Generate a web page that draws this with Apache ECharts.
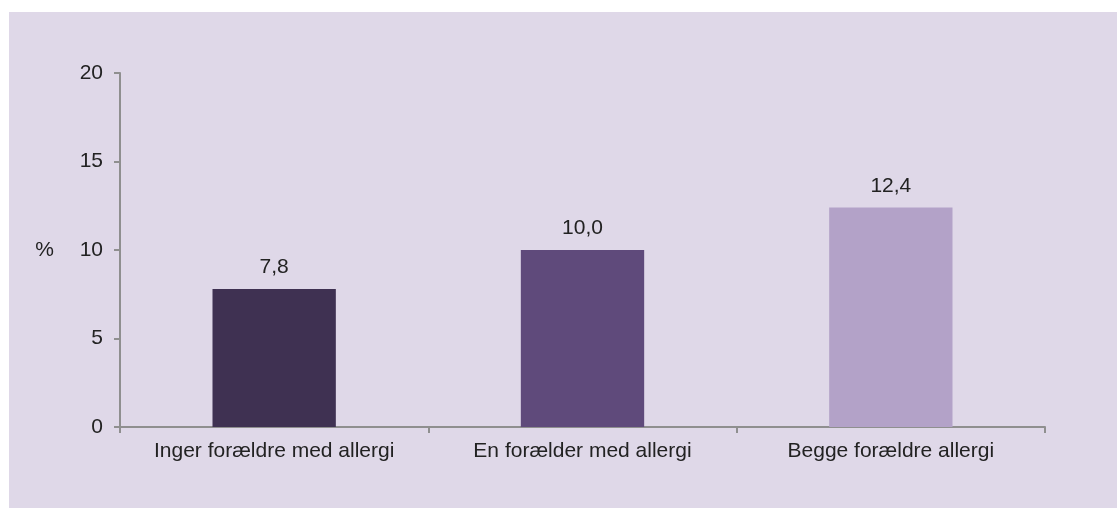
<!DOCTYPE html>
<html><head><meta charset="utf-8">
<script src="https://cdn.jsdelivr.net/npm/echarts@6/dist/echarts.min.js"></script>
<style>html,body{margin:0;padding:0;background:#fff;}#c{width:1117px;height:508px;}</style>
</head><body><div id="c"></div>
<script>
const categories = ['Inger forældre med allergi', 'En forælder med allergi', 'Begge forældre allergi'];
const values = [7.8, 10.0, 12.4];
const barColors = ['#3f3152', '#5f4a7b', '#b3a2c8'];
const yTicks = [0, 5, 10, 15, 20];

const chart = echarts.init(document.getElementById('c'), null, {renderer: 'canvas'});
const axisColor = '#8f8f8f';
const font = 'Liberation Sans, Arial, sans-serif';
const fs = 21;
chart.setOption({
  backgroundColor: '#ffffff',
  animation: false,
  graphic: [{
    type: 'rect', left: 9, top: 12, z: -10,
    shape: {width: 1108, height: 496},
    style: {fill: '#dfd8e8'}
  }],
  grid: {left: 120, right: 72, top: 73, bottom: 81, containLabel: false},
  xAxis: {
    type: 'category', data: categories,
    axisLine: {lineStyle: {color: axisColor, width: 2}},
    axisTick: {show: true, interval: 0, length: 6, alignWithLabel: false, lineStyle: {color: axisColor, width: 2}},
    axisLabel: {interval: 0, hideOverlap: false, color: '#222222', fontSize: fs, fontFamily: font, margin: 14}
  },
  yAxis: {
    type: 'value', min: yTicks[0], max: yTicks[yTicks.length - 1], interval: 5,
    name: '%', nameLocation: 'middle', nameRotate: 0, nameGap: 66,
    nameTextStyle: {color: '#222222', fontSize: fs, fontFamily: font},
    axisLine: {show: true, lineStyle: {color: axisColor, width: 2}},
    axisTick: {show: true, length: 6, lineStyle: {color: axisColor, width: 2}},
    splitLine: {show: false},
    axisLabel: {color: '#222222', fontSize: fs, fontFamily: font, margin: 17}
  },
  series: [{
    type: 'bar', barWidth: '40%',
    data: values.map((v, i) => ({value: v, itemStyle: {color: barColors[i]}})),
    label: {
      show: true, position: 'top', distance: 11,
      color: '#222222', fontSize: fs, fontFamily: font,
      formatter: p => p.value.toFixed(1).replace('.', ',')
    }
  }]
});
</script></body></html>
